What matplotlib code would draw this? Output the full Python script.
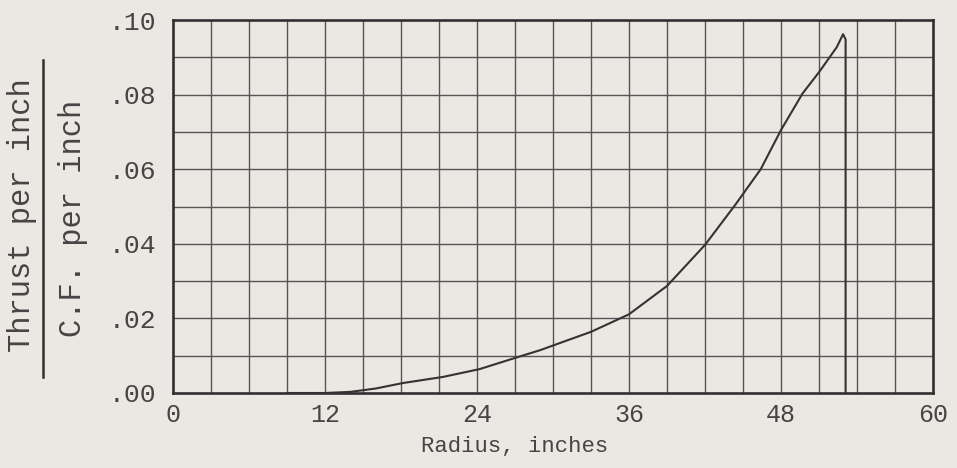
import matplotlib
matplotlib.use("Agg")
import matplotlib.pyplot as plt
from matplotlib.lines import Line2D

# curve (radius in inches, thrust / C.F.)
radius = [9, 12, 14, 16, 18.2, 21.3, 24.2, 27.1, 29.0, 30.3, 33.0, 36.0,
          39.0, 42.0, 44.4, 46.4, 48.0, 49.7, 51.0, 52.4, 52.9, 53.1, 53.1]
thrust = [0.0, 0.0, 0.0003, 0.0012, 0.0027, 0.0043, 0.0064, 0.0095, 0.0115,
          0.0131, 0.0164, 0.0211, 0.0287, 0.0397, 0.0505, 0.0600, 0.0705,
          0.0803, 0.0860, 0.0927, 0.0962, 0.0948, 0.0]

xticks = [0, 12, 24, 36, 48, 60]
xlabels = ["0", "12", "24", "36", "48", "60"]
yticks = [0.0, 0.02, 0.04, 0.06, 0.08, 0.10]
ylabels = [".00", ".02", ".04", ".06", ".08", ".10"]

paper = "#ebe8e3"
ink = "#454545"
font = "Liberation Mono"

fig = plt.figure(figsize=(9.57, 4.68), dpi=100)
fig.patch.set_facecolor(paper)
ax = fig.add_axes([173/957, 75/468, 760/957, 373/468])
ax.set_facecolor(paper)

# graph paper grid: every 3 inches, every .01
for gx in range(3, 60, 3):
    ax.axvline(gx, color="#555555", lw=1.0, zorder=1)
for k in range(1, 10):
    ax.axhline(k * 0.01, color="#555555", lw=1.0, zorder=1)

ax.plot(radius, thrust, color="#333333", lw=1.5, zorder=3)

ax.set_xlim(0, 60)
ax.set_ylim(0, 0.10)
ax.set_xticks(xticks)
ax.set_xticklabels(xlabels, family=font, fontsize=18, color=ink)
ax.set_yticks(yticks)
ax.set_yticklabels(ylabels, family=font, fontsize=19, color=ink)
ax.tick_params(axis="x", length=0, pad=7)
ax.tick_params(axis="y", length=0, pad=12)
for s in ax.spines.values():
    s.set_linewidth(1.9)
    s.set_color("#303030")

fig.text(0.538, 16/468, "Radius, inches", family=font, fontsize=16,
         color=ink, ha="center", va="baseline")

# y label drawn as a fraction
fig.text(22/957, (468-215)/468, "Thrust per inch", family=font, fontsize=22,
         color=ink, rotation=90, ha="center", va="center")
fig.text(73/957, (468-218)/468, "C.F. per inch", family=font, fontsize=22,
         color=ink, rotation=90, ha="center", va="center")
fig.add_artist(Line2D([43/957, 43/957], [(468-377)/468, (468-60)/468],
                      transform=fig.transFigure, color="#303030", lw=1.8))

fig.savefig("out.png", dpi=100, facecolor=paper)
